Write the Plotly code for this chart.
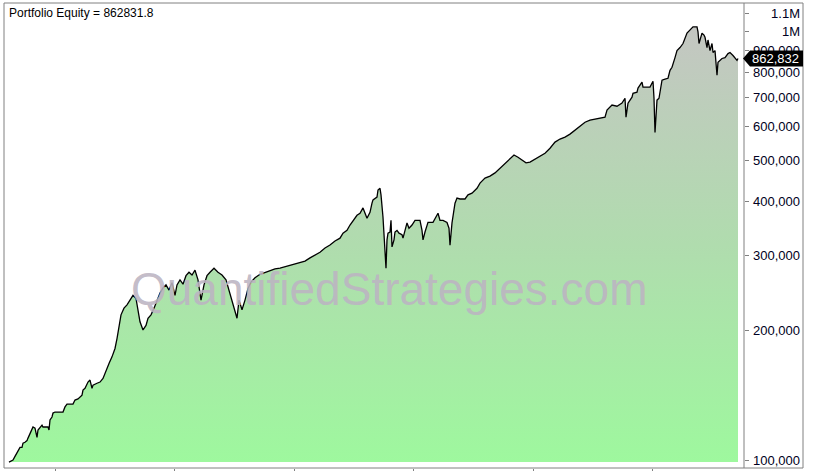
import math
import plotly.graph_objects as go

# ---- data (bar index of the equity series, equity in $) ----
bars = [0, 8, 12, 16, 18, 22, 26, 28, 32, 36, 38,
        46, 48, 52, 56, 58, 62, 66, 68, 78, 80,
        82, 86, 88, 92, 108, 112, 116, 128, 132, 138,
        142, 146, 148, 152, 158, 162, 166, 168, 176, 182,
        188, 194, 200, 206, 212, 216, 220, 224, 230, 236,
        242, 248, 254, 258, 262, 268, 274, 278, 284, 290,
        296, 302, 308, 314, 320, 326, 332, 336, 342, 348,
        354, 360, 366, 372, 378, 384, 390, 396, 402, 410,
        418, 426, 434, 440, 446, 452, 456, 460, 466, 472,
        478, 484, 492, 502, 512, 522, 532, 542, 552, 562,
        572, 582, 592, 602, 612, 622, 632, 642, 652, 662,
        668, 676, 682, 688, 696, 702, 708, 716, 722, 726,
        728, 736, 738, 742, 744, 748, 750, 754, 756, 758,
        762, 764, 766, 770, 772, 776, 780, 786, 788, 792,
        796, 800, 806, 812, 822, 826, 828, 832, 838, 848,
        858, 862, 868, 876, 880, 882, 886, 892, 896, 902,
        912, 918, 926, 936, 942,
        952, 962, 972, 982, 992, 1002, 1010, 1018, 1026, 1034,
        1042, 1052, 1062, 1072, 1082, 1092, 1102, 1112, 1122, 1132,
        1142, 1152, 1162, 1172, 1182,
        1192, 1196, 1206, 1216, 1226, 1232, 1234, 1238, 1246, 1248,
        1256, 1258, 1266, 1268, 1272, 1282, 1288, 1290, 1292, 1296,
        1300, 1306, 1312, 1318, 1322, 1326, 1332, 1336, 1342, 1348,
        1356, 1362, 1368, 1376, 1378, 1380, 1386, 1390, 1392, 1396,
        1398, 1402, 1406, 1408, 1412, 1416, 1418, 1426, 1432, 1438,
        1442, 1448, 1452, 1456, 1458]

equity = [98900, 100000, 102000, 104000, 105500, 107000, 107000, 109500, 110000, 111000, 112500,
          118700, 119400, 118700, 113000, 117500, 119400, 120600, 119400, 119400, 117500,
          124000, 126000, 128700, 129400, 129400, 133000, 135000, 135000, 138000, 138800,
          140000, 141700, 145600, 147000, 152000, 153600, 147000, 149500, 151000, 152000,
          155000, 162000, 168000, 174000, 182000, 192000, 206000, 218000, 226000, 230000,
          236000, 242000, 238000, 224000, 210000, 201000, 206000, 214000, 218000, 226000,
          236000, 245000, 252000, 256000, 249000, 259000, 242000, 256000, 263000, 257000,
          269000, 274000, 270000, 277000, 263000, 236000, 256000, 269000, 274000, 280000,
          274000, 270000, 263000, 249000, 236000, 221000, 214000, 236000, 224000, 236000,
          251000, 260000, 266000, 271000, 274000, 277000, 279000, 280000, 282000, 285000,
          286000, 289000, 291000, 296000, 300000, 305000, 312000, 317000, 324000, 329000,
          338000, 343000, 353000, 362000, 372000, 376000, 387000, 366000, 378000, 397000,
          404000, 410000, 426000, 430000, 415000, 368000, 326000, 280000, 326000, 338000,
          340000, 362000, 314000, 326000, 340000, 343000, 338000, 335000, 329000, 343000,
          357000, 347000, 353000, 362000, 362000, 343000, 326000, 340000, 358000, 358000,
          376000, 362000, 362000, 358000, 347000, 317000, 357000, 397000, 408000, 406000,
          406000, 415000, 419000, 430000, 442000,
          454000, 459000, 467000, 479000, 493000, 505000, 514000, 508000, 500000, 493000,
          495000, 503000, 511000, 519000, 533000, 551000, 560000, 566000, 575000, 588000,
          602000, 613000, 620000, 623000, 626000,
          630000, 654000, 672000, 668000, 679000, 697000, 630000, 679000, 701000, 716000,
          720000, 736000, 760000, 740000, 740000, 740000, 764000, 697000, 580000, 690000,
          697000, 768000, 772000, 776000, 810000, 823000, 867000, 900000, 915000, 935000,
          989000, 1005000, 1023000, 1023000, 995000, 935000, 989000, 978000, 967000, 915000,
          953000, 900000, 935000, 891000, 900000, 789000, 846000, 863000, 867000, 886000,
          891000, 877000, 867000, 854000, 862831.8]

baseline_equity = 98900
year_tick_bars = [92, 331, 570, 809, 1048, 1287]
y_tick_values = [100000, 200000, 300000, 400000, 500000, 600000, 700000,
                 800000, 900000, 1000000, 1100000]
y_tick_labels = ["100,000", "200,000", "300,000", "400,000", "500,000", "600,000",
                 "700,000", "800,000", "900,000", "1M", "1.1M"]

assert len(bars) == len(equity)
final_value = equity[-1]

# ---- layout geometry ----
W, H = 815, 471
ML, MR, MT, MB = 4, 12, 3, 3
plot_w = W - ML - MR
plot_h = H - MT - MB
x_domain_end = (744 - ML) / plot_w
y_range = [4.9815, 6.0653]
x_range = [-10, 1470]


def px_to_paper_x(px):
    return (px - ML) / plot_w


def py_to_paper_y(py):
    return (H - MB - py) / plot_h


fig = go.Figure()
fig.add_trace(go.Scatter(
    x=bars, y=[baseline_equity] * len(bars), mode="lines",
    line=dict(width=0), hoverinfo="skip", showlegend=False))
fig.add_trace(go.Scatter(
    x=bars, y=equity, mode="lines", fill="tonexty",
    line=dict(color="black", width=1.3),
    fillgradient=dict(type="vertical",
                      colorscale=[[0, "#9ef89e"], [0.5, "#b0dcae"], [1, "#c4c6c2"]]),
    showlegend=False, name="Portfolio Equity"))
# dummy trace for the label axis
fig.add_trace(go.Scatter(x=[bars[0]], y=[equity[0]], yaxis="y2", mode="markers",
                         marker=dict(opacity=0), hoverinfo="skip", showlegend=False))

fig.update_layout(
    width=W, height=H, autosize=False,
    margin=dict(l=ML, r=MR, t=MT, b=MB, autoexpand=False),
    paper_bgcolor="white", plot_bgcolor="white",
    font=dict(family="Arial, Liberation Sans, sans-serif", color="black"),
    xaxis=dict(domain=[0, x_domain_end], range=x_range, showgrid=False, zeroline=False,
               showticklabels=False, ticks="outside", ticklen=3, tickcolor="#808080",
               tickvals=year_tick_bars, showline=False, automargin=False),
    yaxis=dict(type="log", range=y_range, side="right", anchor="x", showgrid=False,
               zeroline=False, showticklabels=False, ticks="outside", ticklen=4,
               tickcolor="#808080", tickvals=y_tick_values, showline=False,
               automargin=False),
    yaxis2=dict(type="log", range=y_range, overlaying="y", side="left", anchor="free",
                position=1, showgrid=False, zeroline=False, ticks="",
                tickvals=y_tick_values, ticktext=y_tick_labels, ticklabelstandoff=3,
                tickfont=dict(size=13, color="#000022",
                              family="Arial, Liberation Sans, sans-serif"),
                showline=False, automargin=False),
)

# frame lines
fig.add_shape(type="rect", xref="paper", yref="paper", x0=0, x1=1, y0=0, y1=1,
              line=dict(color="#808080", width=1))
fig.add_shape(type="line", xref="paper", yref="paper", x0=x_domain_end, x1=x_domain_end,
              y0=0, y1=1, line=dict(color="#808080", width=1))

# watermark
fig.add_annotation(text="QuantifiedStrategies.com", xref="paper", yref="paper",
                   x=px_to_paper_x(389), y=py_to_paper_y(289), showarrow=False,
                   xanchor="center", yanchor="middle",
                   font=dict(size=46, color="rgba(188,180,194,0.9)",
                             family="Arial, Liberation Sans, sans-serif"))

# title
fig.add_annotation(text=f"Portfolio Equity = {final_value}", xref="paper", yref="paper",
                   x=px_to_paper_x(7), y=py_to_paper_y(13), showarrow=False,
                   xanchor="left", yanchor="middle",
                   font=dict(size=12, color="black",
                             family="Arial, Liberation Sans, sans-serif"))

# last-value marker
frac = (math.log10(final_value) - y_range[0]) / (y_range[1] - y_range[0])
half = 8 / plot_h
xt = px_to_paper_x(743)
xb = px_to_paper_x(750)
xr = px_to_paper_x(803)
fig.add_shape(type="path", xref="paper", yref="paper",
              path=f"M {xt},{frac} L {xb},{frac + half} L {xr},{frac + half} "
                   f"L {xr},{frac - half} L {xb},{frac - half} Z",
              fillcolor="black", line=dict(color="black", width=0))
fig.add_annotation(text=f"{final_value:,.0f}", xref="paper", yref="paper",
                   x=px_to_paper_x(801), y=frac, showarrow=False,
                   xanchor="right", yanchor="middle",
                   font=dict(size=13, color="white",
                             family="Arial, Liberation Sans, sans-serif"))

fig.write_html("out.html",
               config={"displayModeBar": False, "responsive": False},
               post_script="document.body.style.margin='0px';"
                           "document.body.style.overflow='hidden';")
